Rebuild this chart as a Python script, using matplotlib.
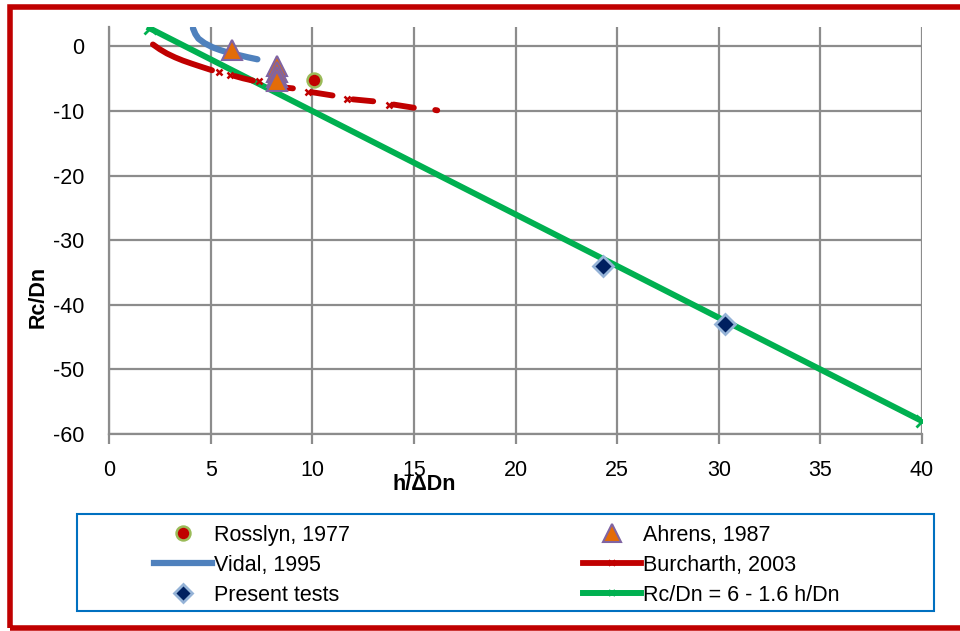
import numpy as np
import matplotlib
matplotlib.use('Agg')
import matplotlib.pyplot as plt
from matplotlib.patches import Rectangle
from matplotlib.lines import Line2D

plt.rcParams['font.family'] = ['Liberation Sans', 'DejaVu Sans']
plt.rcParams['axes.unicode_minus'] = False

# data
rosslynX = [10.1]
rosslynY = [-5.2]

ahrensX = [6.05, 8.26, 8.26, 8.26, 8.26]
ahrensY = [-0.5, -3.0, -4.0, -4.7, -5.3]

vidalX = [4.13, 4.25, 4.4, 4.7, 5.1, 5.45, 5.8, 6.1, 6.45, 6.85, 7.3]
vidalY = [2.8, 1.9, 1.2, 0.5, -0.15, -0.55, -0.9, -1.15, -1.4, -1.7, -2.0]

# Burcharth curve is drawn in pieces with small x markers in the gaps
burchSegX = [[2.16, 2.5, 2.85, 3.25, 3.64, 4.05, 4.48, 5.07],
             [6.2, 6.6, 7.08],
             [8.1, 8.6, 9.05],
             [10.0, 10.5, 11.0],
             [12.0, 12.5, 13.0],
             [14.0, 14.5, 15.0],
             [16.05, 16.15]]
burchSegY = [[0.3, -0.45, -1.1, -1.7, -2.2, -2.65, -3.1, -3.7],
             [-4.6, -4.95, -5.3],
             [-6.2, -6.35, -6.5],
             [-7.1, -7.35, -7.6],
             [-8.2, -8.35, -8.5],
             [-9.0, -9.25, -9.5],
             [-9.85, -9.9]]
burchMarkX = [5.4, 5.95, 7.4, 9.8, 11.7, 13.8]
burchMarkY = [-4.0, -4.4, -5.4, -7.0, -8.1, -9.0]

presentX = [24.3, 30.3]
presentY = [-34.0, -43.0]

fitX = [2.0, 40.0]
fitY = [6 - 1.6 * 2.0, 6 - 1.6 * 40.0]

xTicks = [0, 5, 10, 15, 20, 25, 30, 35, 40]
yTicks = [0, -10, -20, -30, -40, -50, -60]

blue = '#4F81BD'
red = '#C00000'
green = '#00B050'
grey = '#8C8C8C'

fig = plt.figure(figsize=(9.6, 6.31), dpi=100)
ax = fig.add_axes([109/960, 1 - 434/631, (922 - 109)/960, (434 - 27)/631])

ax.set_xlim(0, 40)
ax.set_ylim(-60, 3)
ax.set_xticks(xTicks)
ax.set_yticks(yTicks)
ax.grid(True, color=grey, linewidth=1.6)
ax.set_axisbelow(True)
for s in ['top', 'right']:
    ax.spines[s].set_visible(False)
for s in ['left', 'bottom']:
    ax.spines[s].set_color(grey)
    ax.spines[s].set_linewidth(1.6)
ax.tick_params(axis='x', length=7, width=1.6, color=grey, pad=12, labelsize=15.5)
ax.tick_params(axis='y', length=0, pad=18, labelsize=15.5)

# series
ax.plot(fitX, fitY, color=green, linewidth=4.3, marker='x', markersize=8,
        markeredgewidth=2, zorder=3)
ax.plot(vidalX, vidalY, color=blue, linewidth=4.5, solid_capstyle='round', zorder=4)
for sx, sy in zip(burchSegX, burchSegY):
    ax.plot(sx, sy, color=red, linewidth=4.2, solid_capstyle='round', zorder=4)
ax.plot(burchMarkX, burchMarkY, linestyle='none', marker='x', color=red,
        markersize=5, markeredgewidth=1.8, zorder=4)
ax.plot(ahrensX, ahrensY, linestyle='none', marker='^', markersize=14,
        markerfacecolor='#E36C09', markeredgecolor='#8064A2', markeredgewidth=1.5, zorder=5)
ax.plot(rosslynX, rosslynY, linestyle='none', marker='o', markersize=10,
        markerfacecolor=red, markeredgecolor='#9BBB59', markeredgewidth=1.8, zorder=5)
ax.plot(presentX, presentY, linestyle='none', marker='D', markersize=10,
        markerfacecolor='#002060', markeredgecolor='#95B3D7', markeredgewidth=2, zorder=5)

fig.text(38/960, 1 - 297/631, 'Rc/Dn', rotation=90, ha='center', va='center',
         fontsize=15.5, fontweight='bold')
fig.text(424/960, 1 - 485/631, 'h/ΔDn', ha='center', va='center',
         fontsize=15.5, fontweight='bold')

# legend
hRoss = Line2D([], [], linestyle='none', marker='o', markersize=10,
               markerfacecolor=red, markeredgecolor='#9BBB59', markeredgewidth=1.8)
hAhr = Line2D([], [], linestyle='none', marker='^', markersize=13,
              markerfacecolor='#E36C09', markeredgecolor='#8064A2', markeredgewidth=1.5)
hVid = Line2D([], [], color=blue, linewidth=4.5)
hBur = Line2D([], [], color=red, linewidth=4.2, marker='x', markersize=4, markeredgewidth=1.2)
hPre = Line2D([], [], linestyle='none', marker='D', markersize=9,
              markerfacecolor='#002060', markeredgecolor='#95B3D7', markeredgewidth=2)
hFit = Line2D([], [], color=green, linewidth=4.3, marker='x', markersize=5, markeredgewidth=1.5)
handles = [hRoss, hVid, hPre, hAhr, hBur, hFit]
labels = ['Rosslyn, 1977', 'Vidal, 1995', 'Present tests',
          'Ahrens, 1987', 'Burcharth, 2003', 'Rc/Dn = 6 - 1.6 h/Dn']
fig.legend(handles, labels, ncol=2, loc='upper left',
           bbox_to_anchor=(143/960, 1 - 514/631), frameon=False,
           fontsize=15.5, handlelength=2.7, handletextpad=0.1,
           labelspacing=0.42, columnspacing=10.8, numpoints=1, borderpad=0)
fig.patches.append(Rectangle((77/960, 1 - 611/631), (934 - 77)/960, 97/631,
                             transform=fig.transFigure, fill=False,
                             edgecolor='#0070C0', linewidth=1.5))

# outer red border
fig.patches.append(Rectangle((9.5/960, 1 - 628/631), 1.0, (628 - 6.5)/631,
                             transform=fig.transFigure, fill=False,
                             edgecolor=red, linewidth=4))

fig.savefig('out.png', dpi=100)
